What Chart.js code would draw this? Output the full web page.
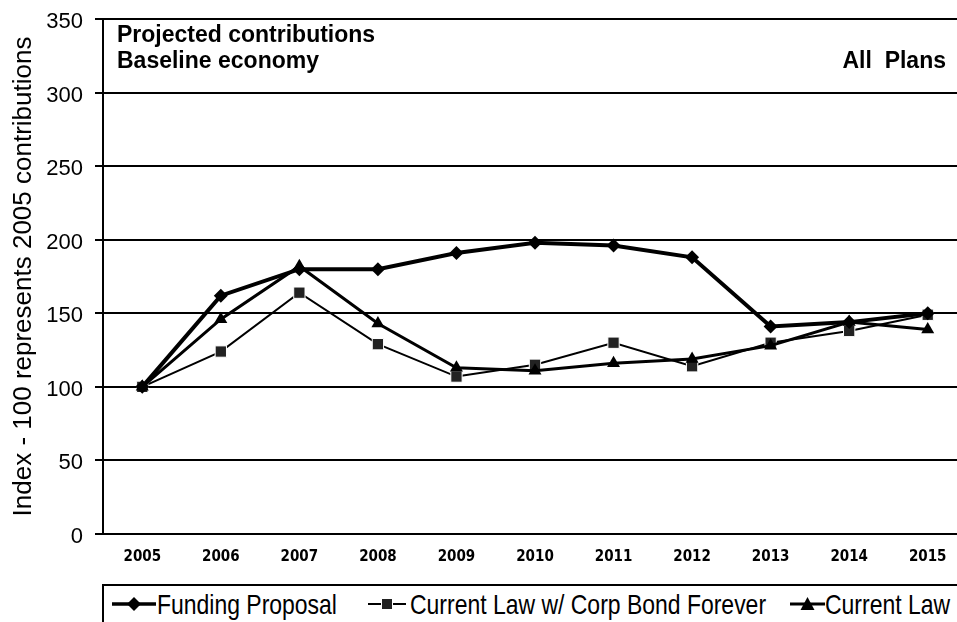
<!DOCTYPE html>
<html>
<head>
<meta charset="utf-8">
<script src="https://cdn.jsdelivr.net/npm/chart.js@4.4.1/dist/chart.umd.min.js"></script>
<style>
  html, body { margin: 0; padding: 0; background: #fff; overflow: hidden; }
  #wrap { position: absolute; left: 0; top: 0; width: 976px; height: 575px; }
  #legend {
    position: absolute; left: 102px; top: 584px; width: 900px; height: 60px;
    border: 2px solid #000; box-sizing: border-box;
    font-family: "Liberation Sans", Arial, sans-serif;
    font-size: 28px; line-height: 32px; color: #000; white-space: nowrap;
  }
  #legend .txt { position: absolute; top: 3px; transform: scaleX(0.82); transform-origin: 0 0; }
  #legend svg { position: absolute; top: 10px; }
</style>
</head>
<body>
<div id="wrap"><canvas id="contribChart"></canvas></div>
<div id="legend">
  <svg style="left:8px" width="44" height="16"><line x1="0" y1="8" x2="44" y2="8" stroke="#000" stroke-width="3.5"/><polygon points="22,1 29,8 22,15 15,8" fill="#000"/></svg>
  <span class="txt" style="left:53px">Funding Proposal</span>
  <svg style="left:264px" width="38" height="16"><line x1="0" y1="8" x2="38" y2="8" stroke="#000" stroke-width="2"/><rect x="13.5" y="2.5" width="11" height="11" fill="#222" stroke="#fff" stroke-width="1"/></svg>
  <span class="txt" style="left:306px">Current Law w/ Corp Bond Forever</span>
  <svg style="left:686px" width="35" height="16"><line x1="0" y1="8" x2="35" y2="8" stroke="#000" stroke-width="3"/><polygon points="17.5,1 24.5,14 10.5,14" fill="#000"/></svg>
  <span class="txt" style="left:721px">Current Law</span>
</div>
<script>
// Years on the x axis
const years = ['2005', '2006', '2007', '2008', '2009', '2010', '2011', '2012', '2013', '2014', '2015'];

// Contribution index by scenario (2005 = 100)
const fundingProposal = [100, 162, 180, 180, 191, 198, 196, 188, 141, 144, 150];
const corpBondForever = [100, 124, 164, 129, 107, 115, 130, 114, 130, 138, 149];
const currentLaw      = [100, 146, 182, 143, 113, 111, 116, 119, 128, 144, 139];

const yTicks = [0, 50, 100, 150, 200, 250, 300, 350];

// Caption text drawn inside the plot area
const captionPlugin = {
  id: 'caption',
  afterDraw(chart) {
    const ctx = chart.ctx;
    ctx.save();
    ctx.fillStyle = '#000';
    ctx.font = 'bold 23px "Liberation Sans", Arial, sans-serif';
    ctx.textBaseline = 'alphabetic';
    ctx.textAlign = 'left';
    ctx.fillText('Projected contributions', 117, 42);
    ctx.fillText('Baseline economy', 117, 68);
    ctx.textAlign = 'right';
    ctx.fillText('All  Plans', 946, 68);
    ctx.restore();
  }
};

const ctx = document.getElementById('contribChart').getContext('2d');

new Chart(ctx, {
  type: 'line',
  data: {
    labels: years,
    datasets: [
      {
        label: 'Funding Proposal',
        data: fundingProposal,
        borderColor: '#000',
        backgroundColor: '#000',
        borderWidth: 4,
        pointStyle: 'rectRot',
        pointRadius: 7,
        pointBorderWidth: 0,
        tension: 0,
        order: 1
      },
      {
        label: 'Current Law w/ Corp Bond Forever',
        data: corpBondForever,
        borderColor: '#000',
        backgroundColor: '#222',
        pointBorderColor: '#fff',
        borderWidth: 2,
        pointStyle: 'rect',
        pointRadius: 8,
        pointBorderWidth: 1,
        tension: 0,
        order: 3
      },
      {
        label: 'Current Law',
        data: currentLaw,
        borderColor: '#000',
        backgroundColor: '#000',
        borderWidth: 3,
        pointStyle: 'triangle',
        pointRadius: 7.5,
        pointBorderWidth: 0,
        tension: 0,
        order: 2
      }
    ]
  },
  options: {
    responsive: true,
    maintainAspectRatio: false,
    animation: false,
    events: [],
    layout: { padding: { top: 19, left: 0, right: 4, bottom: 0 } },
    plugins: {
      legend: { display: false },
      tooltip: { enabled: false }
    },
    scales: {
      x: {
        type: 'category',
        offset: true,
        grid: { display: false, drawTicks: false },
        border: { color: '#000', width: 2 },
        ticks: {
          color: '#000',
          padding: 14,
          maxRotation: 0,
          autoSkip: false,
          font: { family: '"DejaVu Sans Condensed", "Liberation Sans", Arial', size: 15, weight: 'bold' }
        },
        afterFit(scale) { scale.height = 41; }
      },
      y: {
        min: 0,
        max: 350,
        afterBuildTicks(scale) { scale.ticks = yTicks.map(v => ({ value: v })); },
        grid: { color: '#000', lineWidth: 2, tickLength: 8, tickColor: '#000' },
        border: { color: '#000', width: 2 },
        ticks: {
          color: '#000',
          padding: 12,
          labelOffset: 3,
          font: { family: '"Liberation Sans", Arial', size: 22 }
        },
        title: {
          display: true,
          text: 'Index - 100 represents 2005 contributions',
          color: '#000',
          padding: { top: 8, bottom: 0 },
          font: { family: '"Liberation Sans", Arial', size: 26 }
        },
        afterFit(scale) {
          scale.width = 103;
          scale.paddingTop = 0;
          scale.paddingBottom = 0;
        }
      }
    }
  },
  plugins: [captionPlugin]
});
</script>
</body>
</html>
